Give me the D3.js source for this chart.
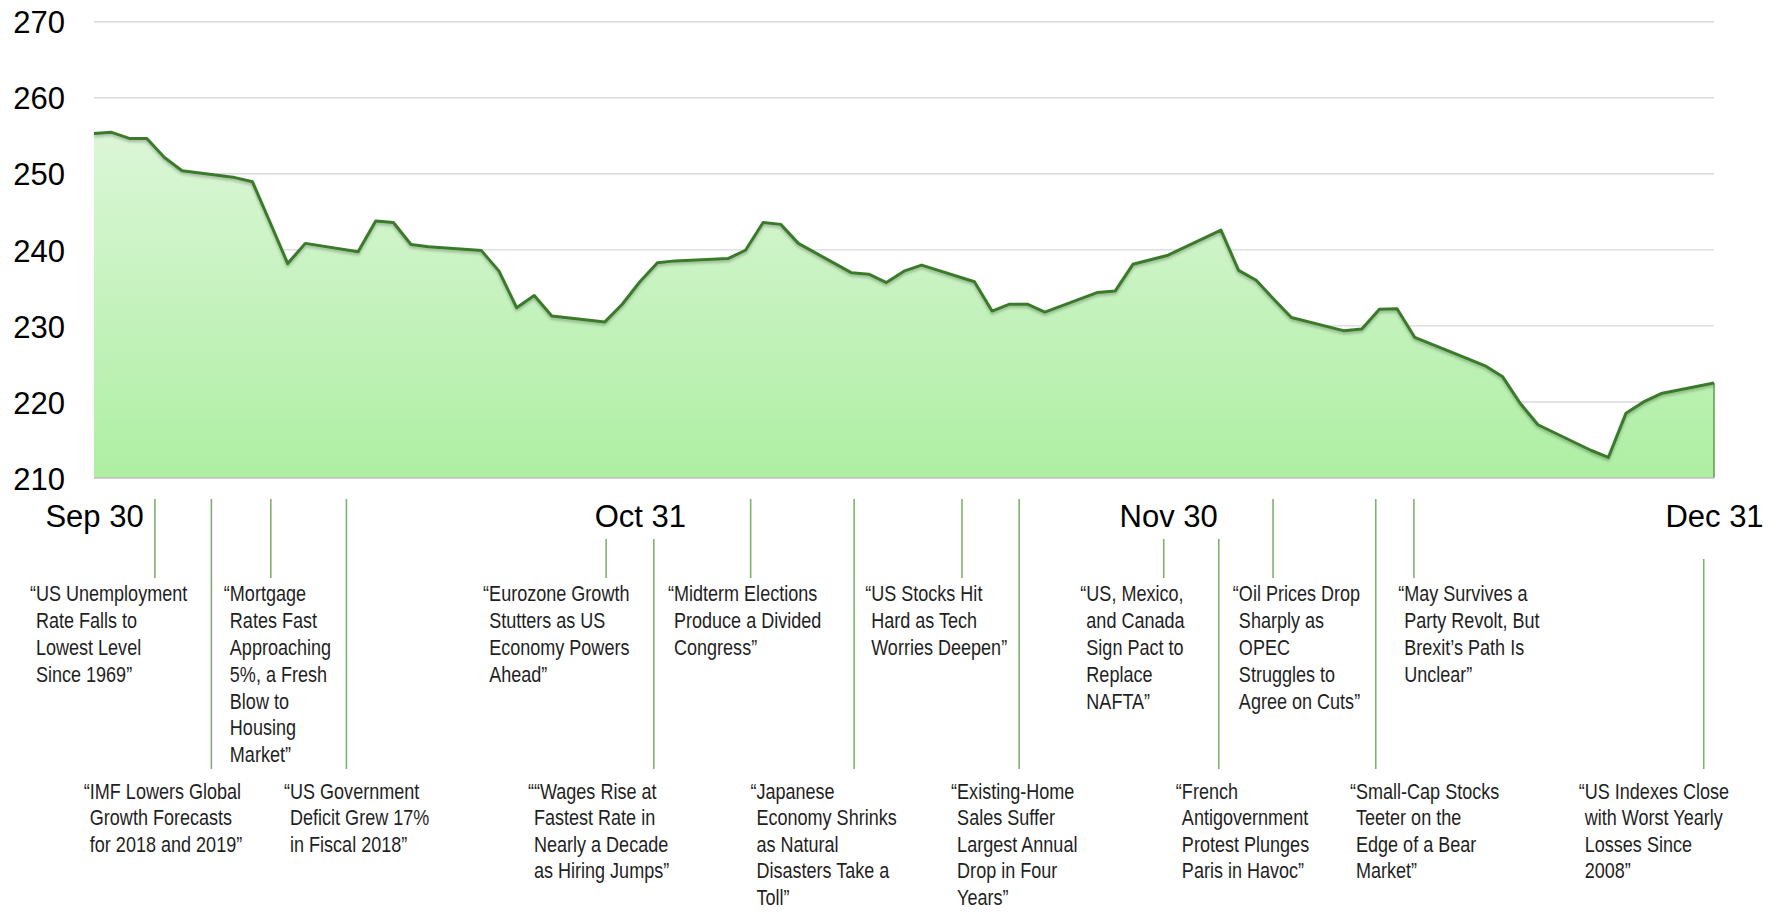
<!DOCTYPE html>
<html><head><meta charset="utf-8">
<script src="https://cdn.jsdelivr.net/npm/d3@7"></script>
<style>body{margin:0;background:#fff}svg{display:block}</style>
</head><body><svg id="c" width="1782" height="912"></svg>
<script>
// ---------- data ----------
const tradeDates = ["2018-09-30","2018-10-01","2018-10-02","2018-10-03","2018-10-04","2018-10-05","2018-10-08","2018-10-09","2018-10-10","2018-10-11","2018-10-12","2018-10-15","2018-10-16","2018-10-17","2018-10-18","2018-10-19","2018-10-22","2018-10-23","2018-10-24","2018-10-25","2018-10-26","2018-10-29","2018-10-30","2018-10-31","2018-11-01","2018-11-02","2018-11-05","2018-11-06","2018-11-07","2018-11-08","2018-11-09","2018-11-12","2018-11-13","2018-11-14","2018-11-15","2018-11-16","2018-11-19","2018-11-20","2018-11-21","2018-11-22","2018-11-23","2018-11-26","2018-11-27","2018-11-28","2018-11-29","2018-11-30","2018-12-03","2018-12-04","2018-12-05","2018-12-06","2018-12-07","2018-12-10","2018-12-11","2018-12-12","2018-12-13","2018-12-14","2018-12-17","2018-12-18","2018-12-19","2018-12-20","2018-12-21","2018-12-24","2018-12-25","2018-12-26","2018-12-27","2018-12-28","2018-12-31"];
const closeValues = [255.3,255.45,254.65,254.65,252.15,250.4,249.5,248.95,243.6,238.2,240.85,239.75,243.8,243.6,240.7,240.4,239.9,237.2,232.4,234.0,231.3,230.5,232.85,235.8,238.3,238.55,238.85,239.95,243.6,243.35,240.85,237.0,236.8,235.7,237.2,238.0,235.8,231.95,232.85,232.85,231.8,234.4,234.6,238.1,238.7,239.3,242.6,237.3,236.0,233.5,231.1,229.35,229.6,232.2,232.25,228.5,225.7,224.75,223.3,219.8,217.0,213.65,212.7,218.5,220.0,221.1,222.5];
const yTicks = [210,220,230,240,250,260,270];
const xTickDates = ["2018-09-30","2018-10-31","2018-11-30","2018-12-31"];
const xTickLabels = ["Sep 30","Oct 31","Nov 30","Dec 31"];
const eventDates = ["2018-10-03T11:00","2018-10-06T16:00","2018-10-10T01:00","2018-10-14T08:00","2018-10-29T02:00","2018-10-31T19:00","2018-11-06T07:00","2018-11-12T04:00","2018-11-18T07:00","2018-11-21T13:00","2018-11-29T18:00","2018-12-02T21:00","2018-12-05T23:00","2018-12-11T19:00","2018-12-13T23:00","2018-12-30T10:00"];
const eventTexts = [
  ["\u201CUS Unemployment","Rate Falls to","Lowest Level","Since 1969\u201D"],
  ["\u201CIMF Lowers Global","Growth Forecasts","for 2018 and 2019\u201D"],
  ["\u201CMortgage","Rates Fast","Approaching","5%, a Fresh","Blow to","Housing","Market\u201D"],
  ["\u201CUS Government","Deficit Grew 17%","in Fiscal 2018\u201D"],
  ["\u201CEurozone Growth","Stutters as US","Economy Powers","Ahead\u201D"],
  ["\u201C\u201CWages Rise at","Fastest Rate in","Nearly a Decade","as Hiring Jumps\u201D"],
  ["\u201CMidterm Elections","Produce a Divided","Congress\u201D"],
  ["\u201CJapanese","Economy Shrinks","as Natural","Disasters Take a","Toll\u201D"],
  ["\u201CUS Stocks Hit","Hard as Tech","Worries Deepen\u201D"],
  ["\u201CExisting-Home","Sales Suffer","Largest Annual","Drop in Four","Years\u201D"],
  ["\u201CUS, Mexico,","and Canada","Sign Pact to","Replace","NAFTA\u201D"],
  ["\u201CFrench","Antigovernment","Protest Plunges","Paris in Havoc\u201D"],
  ["\u201COil Prices Drop","Sharply as","OPEC","Struggles to","Agree on Cuts\u201D"],
  ["\u201CSmall-Cap Stocks","Teeter on the","Edge of a Bear","Market\u201D"],
  ["\u201CMay Survives a","Party Revolt, But","Brexit\u2019s Path Is","Unclear\u201D"],
  ["\u201CUS Indexes Close","with Worst Yearly","Losses Since","2008\u201D"]
];

// ---------- layout ----------
const eventRow = ["top","bottom","top","bottom","top","bottom","top","bottom","top","bottom","top","bottom","top","bottom","top","bottom"];
const eventTextDx = [-125,-127.6,-47,-62.4,-123,-125.9,-82.7,-103.7,-96.8,-68.1,-83.4,-42.9,-40.2,-25.8,-15.7,-125];
const eventLineTop = [499,499,499,499,539,539,499,499,499,499,539,539,499,499,499,559];
const plot = {left:94, right:1714, top:21.7, bottom:478};

const svg = d3.select("#c");
const parseDay = d3.timeParse("%Y-%m-%d");
const parseHour = d3.timeParse("%Y-%m-%dT%H:%M");
const data = tradeDates.map((d,i)=>({date:parseDay(d), value:closeValues[i]}));

const x = d3.scaleTime().domain([parseDay(xTickDates[0]), parseDay(xTickDates[xTickDates.length-1])]).range([plot.left, plot.right]);
const y = d3.scaleLinear().domain([210,270]).range([plot.bottom, plot.top]);

const defs = svg.append("defs");
const grad = defs.append("linearGradient").attr("id","ag").attr("gradientUnits","userSpaceOnUse")
  .attr("x1",0).attr("x2",0).attr("y1",y(257)).attr("y2",y(210));
grad.append("stop").attr("offset","0%").attr("stop-color","#ddf6d9");
grad.append("stop").attr("offset","100%").attr("stop-color","#aeefa3");
const f = defs.append("filter").attr("id","sh").attr("x","-5%").attr("y","-20%").attr("width","110%").attr("height","140%");
f.append("feDropShadow").attr("dx",0).attr("dy",2).attr("stdDeviation",1.6).attr("flood-color","#000").attr("flood-opacity",0.28);

// gridlines
svg.append("g").selectAll("line").data(yTicks.filter(t=>t>210)).join("line")
  .attr("x1",plot.left).attr("x2",plot.right).attr("y1",d=>y(d)).attr("y2",d=>y(d))
  .attr("stroke","#d9d9d9").attr("stroke-width",1.4);

// area
const area = d3.area().x(d=>x(d.date)).y0(y(210)).y1(d=>y(d.value));
svg.append("path").datum(data).attr("d",area).attr("fill","url(#ag)");
svg.append("line").attr("x1",plot.right).attr("x2",plot.right).attr("y1",y(closeValues[closeValues.length-1])).attr("y2",y(210))
  .attr("stroke","#5c9b4a").attr("stroke-width",1.5);

// baseline
svg.append("line").attr("x1",plot.left).attr("x2",plot.right).attr("y1",y(210)).attr("y2",y(210))
  .attr("stroke","#bfbfbf").attr("stroke-width",1.5);

// line
const line = d3.line().x(d=>x(d.date)).y(d=>y(d.value));
svg.append("path").datum(data).attr("d",line).attr("fill","none")
  .attr("stroke","#3b7a2b").attr("stroke-width",3).attr("stroke-linejoin","round").attr("filter","url(#sh)");

// y axis labels
const yAxis = d3.axisLeft(y).tickValues(yTicks).tickSize(0).tickPadding(0).tickFormat(d3.format("d"));
const gy = svg.append("g").attr("transform",`translate(${65},0)`).call(yAxis);
gy.select(".domain").remove();
gy.selectAll("text").attr("font-family","'Liberation Sans', Arial, sans-serif").attr("font-size",31)
  .attr("fill","#000").attr("dy","0.36em").attr("x",0);

// x axis labels
const xAxis = d3.axisBottom(x).tickValues(xTickDates.map(parseDay)).tickSize(0).tickPadding(0)
  .tickFormat((d,i)=>xTickLabels[i]);
const gx = svg.append("g").attr("transform",`translate(0,${527})`).call(xAxis);
gx.select(".domain").remove();
gx.selectAll("text").attr("font-family","'Liberation Sans', Arial, sans-serif").attr("font-size",31)
  .attr("fill","#000").attr("dy",0).attr("y",0);

// annotation font detection
function measure(fam){
  const t = svg.append("text").attr("font-family",fam).attr("font-size",22).text("US Unemployment");
  const w = t.node().getComputedTextLength(); t.remove(); return w;
}
const narrowW = measure("'Liberation Sans Narrow', 'Arial Narrow', monospace");
const monoW = measure("monospace");
const hasNarrow = Math.abs(narrowW - monoW) > 1;
const annFamily = hasNarrow ? "'Liberation Sans Narrow','Arial Narrow',sans-serif" : "'Liberation Sans',Arial,sans-serif";
const annScale = hasNarrow ? 1 : 0.82;

// annotations
const rowBase = {top:601, bottom:799};
const rowLineBottom = {top:578, bottom:769};
const lineH = {top:26.9, bottom:26.4};
const ann = svg.append("g");
eventDates.forEach((ds,i)=>{
  const lx = x(parseHour(ds));
  const row = eventRow[i];
  ann.append("line").attr("x1",lx).attr("x2",lx).attr("y1",eventLineTop[i]).attr("y2",rowLineBottom[row])
    .attr("stroke","#80b06e").attr("stroke-width",1.6);
  const tx = lx + eventTextDx[i];
  const g = ann.append("g").attr("transform",`translate(${tx},${rowBase[row]}) scale(${annScale},1)`);
  const q = g.append("text").attr("font-family",annFamily).attr("font-size",22).text("\u201C");
  const indent = q.node().getComputedTextLength(); q.remove();
  eventTexts[i].forEach((ln,j)=>{
    g.append("text").attr("font-family",annFamily).attr("font-size",22).attr("fill","#1f1f1f")
      .attr("x", j===0 ? 0 : indent).attr("y", j*lineH[row]).text(ln);
  });
});
</script></body></html>
